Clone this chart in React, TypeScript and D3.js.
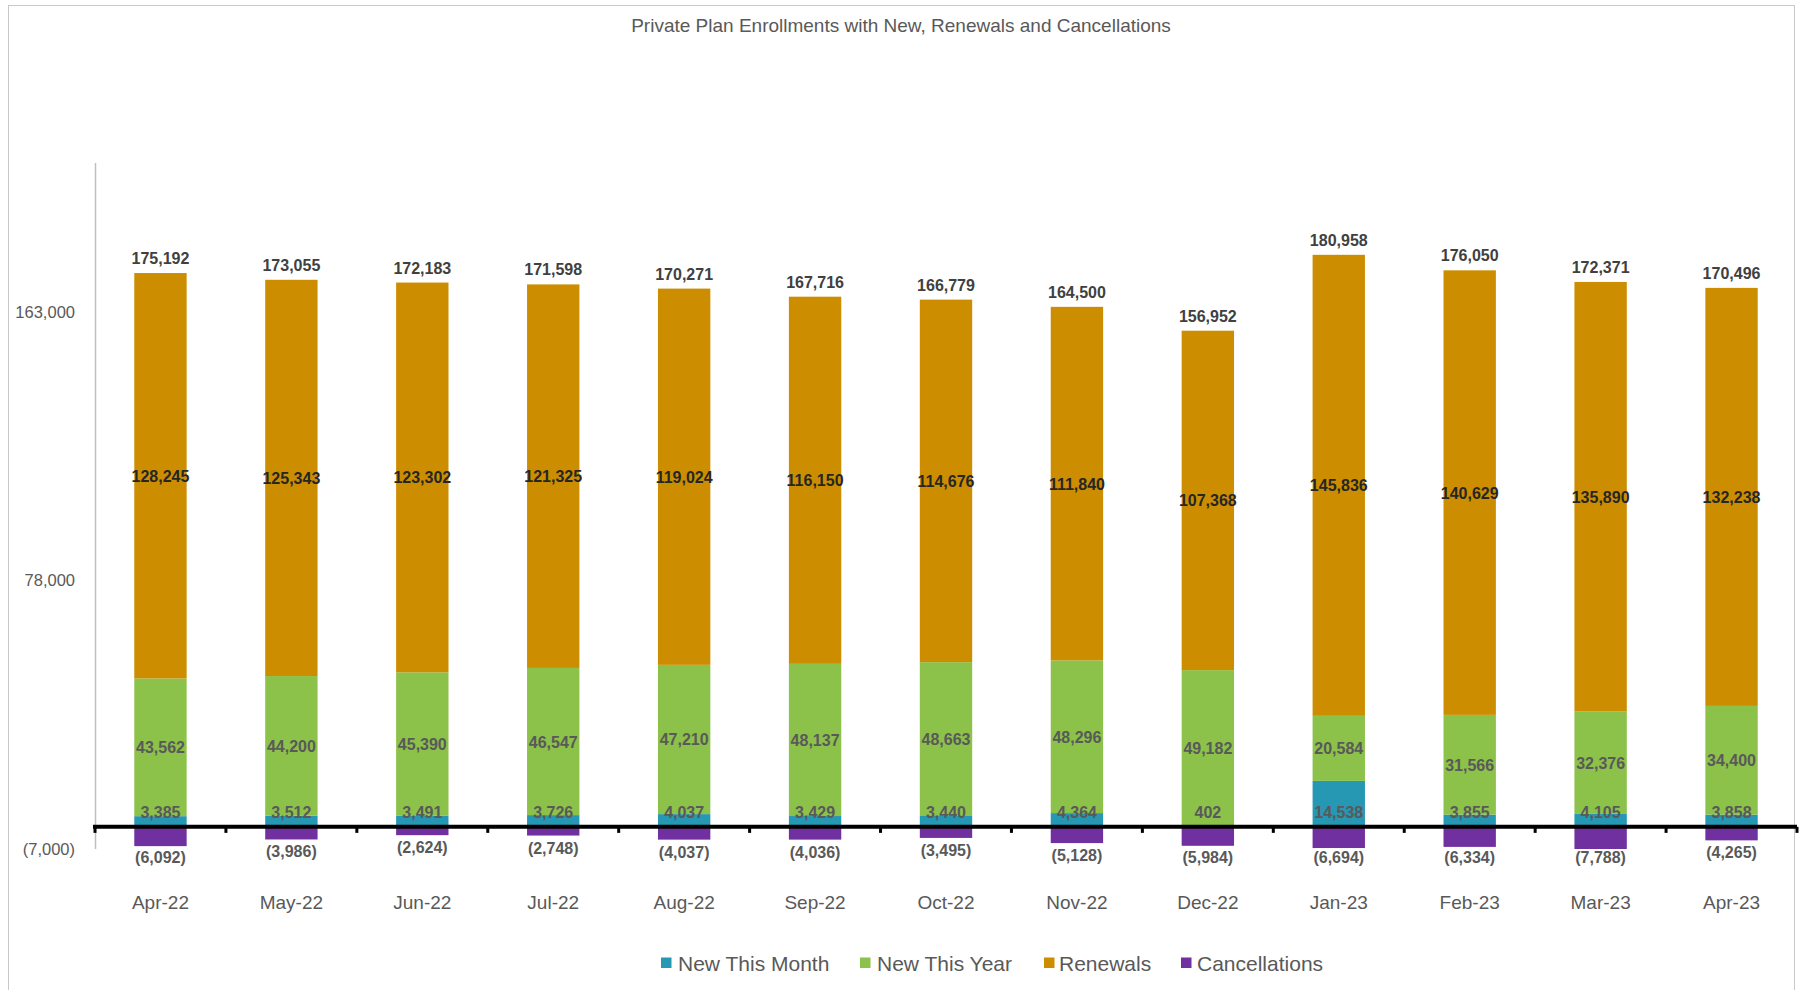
import React from "react";
import * as d3 from "d3";

const categories = ["Apr-22","May-22","Jun-22","Jul-22","Aug-22","Sep-22","Oct-22","Nov-22","Dec-22","Jan-23","Feb-23","Mar-23","Apr-23"];
const newThisMonth = [3385,3512,3491,3726,4037,3429,3440,4364,402,14538,3855,4105,3858];
const newThisYear = [43562,44200,45390,46547,47210,48137,48663,48296,49182,20584,31566,32376,34400];
const renewals = [128245,125343,123302,121325,119024,116150,114676,111840,107368,145836,140629,135890,132238];
const cancellations = [-6092,-3986,-2624,-2748,-4037,-4036,-3495,-5128,-5984,-6694,-6334,-7788,-4265];
const yTicks = [-7000, 78000, 163000];
const seriesNames = ["New This Month","New This Year","Renewals","Cancellations"];
const seriesColors = ["#2698B4","#8CC14A","#CC8E00","#7030A0"];

const W = 1801, H = 990;
const FONT = "'Liberation Sans', Arial, sans-serif";

export default function App() {
  const x = d3.scaleBand<string>().domain(categories).range([95, 1797]).paddingInner(0.6).paddingOuter(0.3);
  const y = d3.scaleLinear().domain([-7000, 210000]).range([849, 163]);
  const fmt = d3.format(",");
  const fmtSigned = (v: number) => (v < 0 ? `(${fmt(-v)})` : fmt(v));
  const step = x.step();
  const bw = x.bandwidth();
  const y0 = y(0);
  const yMin = y(-7000);

  const rows = categories.map((c, i) => {
    const a = newThisMonth[i], b = newThisYear[i], r = renewals[i], cn = cancellations[i];
    return { c, a, b, r, cn, total: a + b + r };
  });

  const legendSq = [661, 860, 1044, 1181];
  const legendTx = [678, 877, 1059, 1197];

  return (
    <svg width={W} height={H} style={{ position: "absolute", left: 0, top: 0, display: "block", background: "#fff" }} fontFamily={FONT}>
      <rect x={8.5} y={5.5} width={1786} height={1000} fill="#fff" stroke="#C8C8C8" strokeWidth={1} />
      <text x={901} y={32} textAnchor="middle" fontSize={19} fill="#595959">
        Private Plan Enrollments with New, Renewals and Cancellations
      </text>

      {/* y axis */}
      <line x1={95.5} x2={95.5} y1={163} y2={yMin} stroke="#BFBFBF" strokeWidth={1.5} />
      {yTicks.map((t) => (
        <text key={t} x={75} y={y(t) + 6} textAnchor="end" fontSize={16.5} fill="#595959">
          {fmtSigned(t)}
        </text>
      ))}

      {/* bars */}
      {rows.map((d) => {
        const bx = x(d.c)!;
        const yA = y(d.a);
        const yB = y(d.a + d.b);
        const yR = y(d.total);
        const yC = Math.min(y(d.cn), yMin);
        return (
          <g key={d.c}>
            <rect x={bx} y={yA} width={bw} height={y0 - yA} fill={seriesColors[0]} />
            <rect x={bx} y={yB} width={bw} height={yA - yB} fill={seriesColors[1]} />
            <rect x={bx} y={yR} width={bw} height={yB - yR} fill={seriesColors[2]} />
            <rect x={bx} y={y0} width={bw} height={yC - y0} fill={seriesColors[3]} />
          </g>
        );
      })}

      {/* zero line with ticks */}
      <line x1={93} x2={1797} y1={y0} y2={y0} stroke="#000" strokeWidth={4} />
      {d3.range(categories.length + 1).map((i) => (
        <rect key={i} x={95 + i * step - 1.5} y={y0} width={3} height={6} fill="#000" />
      ))}

      {/* labels */}
      {rows.map((d) => {
        const cx = x(d.c)! + bw / 2;
        const yA = y(d.a);
        const yB = y(d.a + d.b);
        const yR = y(d.total);
        const cCenter = Math.min(y(d.cn) + 12, 857);
        return (
          <g key={d.c + "l"} fontWeight="bold" fontSize={16} textAnchor="middle">
            <text x={cx} y={yR - 9} fill="#404040">{fmt(d.total)}</text>
            <text x={cx} y={(yB + yR) / 2 + 6} fill="#262626">{fmt(d.r)}</text>
            <text x={cx} y={(yA + yB) / 2 + 6} fill="#595959">{fmt(d.b)}</text>
            <text x={cx} y={y0 - 9} fill="#595959">{fmt(d.a)}</text>
            <text x={cx} y={cCenter + 6} fill="#595959">{fmtSigned(d.cn)}</text>
          </g>
        );
      })}

      {/* x labels */}
      {categories.map((c) => (
        <text key={c + "x"} x={x(c)! + bw / 2} y={909} textAnchor="middle" fontSize={19} fill="#595959">
          {c}
        </text>
      ))}

      {/* legend */}
      {seriesNames.map((n, i) => (
        <g key={n}>
          <rect x={legendSq[i]} y={957.5} width={10.5} height={10.5} fill={seriesColors[i]} />
          <text x={legendTx[i]} y={970.5} fontSize={21} fill="#595959">{n}</text>
        </g>
      ))}
    </svg>
  );
}
